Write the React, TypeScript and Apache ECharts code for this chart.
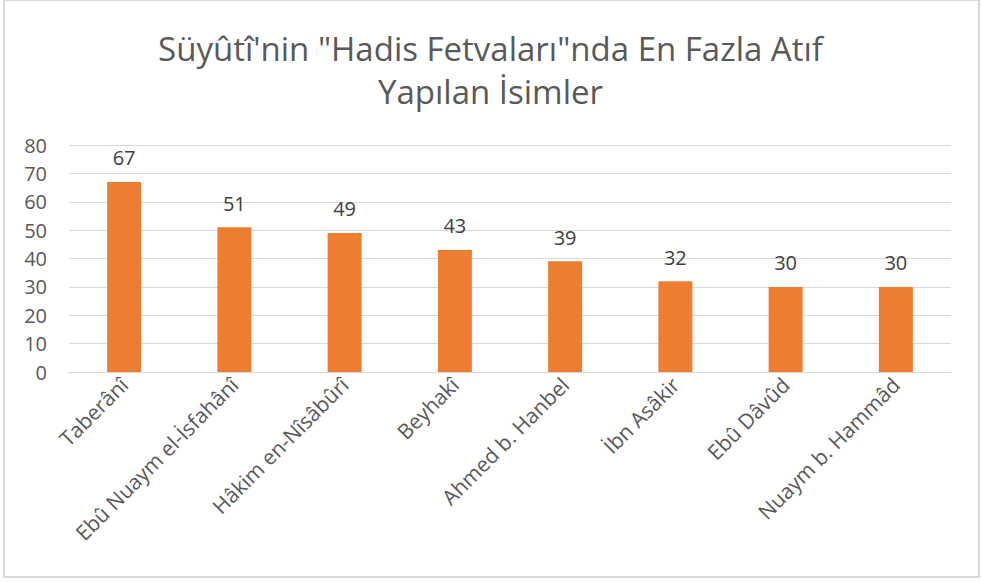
import React, { useEffect, useRef } from "react";
import * as echarts from "echarts";

const categories = [
  "Taberânî",
  "Ebû Nuaym el-İsfahânî",
  "Hâkim en-Nîsâbûrî",
  "Beyhakî",
  "Ahmed b. Hanbel",
  "İbn Asâkir",
  "Ebû Dâvûd",
  "Nuaym b. Hammâd",
];
const values = [67, 51, 49, 43, 39, 32, 30, 30];
const titleLines = ["Süyûtî'nin \"Hadis Fetvaları\"nda En Fazla Atıf", "Yapılan İsimler"];

const FONT = "'Open Sans', 'Noto Sans', sans-serif";

export default function App() {
  const ref = useRef<HTMLDivElement>(null);
  useEffect(() => {
    document.body.style.margin = "0";
    const chart = echarts.init(ref.current!, null, { renderer: "svg" });
    chart.setOption({
      animation: false,
      backgroundColor: "#ffffff",
      title: {
        text: titleLines.join("\n"),
        left: "center",
        top: 22,
        textStyle: {
          fontFamily: FONT,
          fontSize: 33,
          fontWeight: "normal",
          color: "#595959",
          lineHeight: 43,
        },
      },
      graphic: [
        {
          type: "rect",
          shape: { x: 4, y: 0, width: 975, height: 577 },
          style: { fill: "none", stroke: "#d9d9d9", lineWidth: 2 },
          silent: true,
        },
      ],
      grid: { left: 69, right: 30, top: 145, bottom: 210 },
      xAxis: {
        type: "category",
        data: categories,
        axisTick: { show: false },
        axisLine: { lineStyle: { color: "#d9d9d9", width: 1 } },
        axisLabel: {
          rotate: 45,
          interval: 0,
          fontFamily: FONT,
          fontSize: 21,
          color: "#595959",
          margin: 9,
        },
      },
      yAxis: {
        type: "value",
        min: 0,
        max: 80,
        interval: 10,
        axisLine: { show: false },
        axisTick: { show: false },
        splitLine: { lineStyle: { color: "#d9d9d9", width: 1 } },
        axisLabel: {
          fontFamily: FONT,
          fontSize: 20,
          color: "#595959",
          margin: 22,
        },
      },
      series: [
        {
          type: "bar",
          data: values,
          barWidth: 34,
          itemStyle: { color: "#ED7D31" },
          label: {
            show: true,
            position: "top",
            distance: 14,
            fontFamily: FONT,
            fontSize: 20,
            color: "#404040",
          },
        },
      ],
    });
    return () => chart.dispose();
  }, []);
  return <div ref={ref} style={{ width: 981, height: 582 }} />;
}
